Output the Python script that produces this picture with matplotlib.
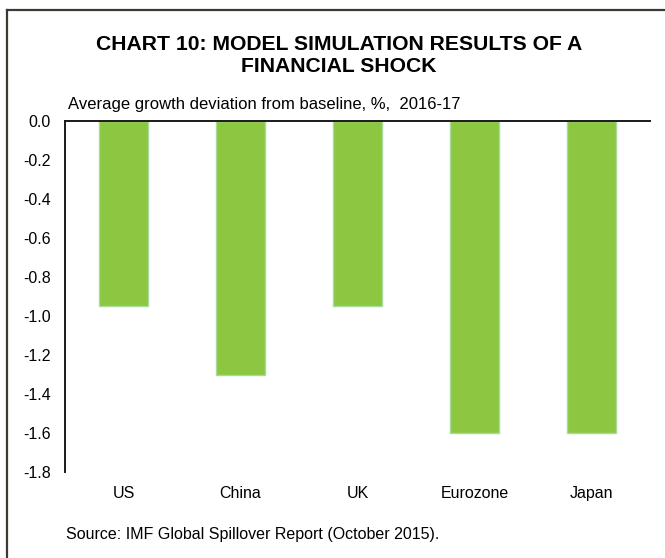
import matplotlib.pyplot as plt

plt.rcParams['font.family'] = ['Liberation Sans', 'DejaVu Sans']

# data
countries = ["US", "China", "UK", "Eurozone", "Japan"]
deviation = [-0.95, -1.30, -0.95, -1.60, -1.60]
y_ticks = [0.0, -0.2, -0.4, -0.6, -0.8, -1.0, -1.2, -1.4, -1.6, -1.8]

fig = plt.figure(figsize=(6.65, 5.58), dpi=100)
W, H = 665, 558

# outer frame (open at right / bottom like the source)
fig.add_artist(plt.Line2D([7 / W, 7 / W], [0, 1 - 10 / H], color="#3b3b33", lw=1.6))
fig.add_artist(plt.Line2D([7 / W, 1], [1 - 10 / H, 1 - 10 / H], color="#3b3b33", lw=1.6))

ax = fig.add_axes([65 / W, 1 - 472 / H, (650 - 65) / W, (472 - 121) / H])

x = range(len(countries))
ax.bar(x, deviation, width=0.42, color="#8DC641", edgecolor="#A6DB9C", linewidth=1)

ax.set_xlim(-0.5, len(countries) - 0.5)
ax.set_ylim(-1.8, 0)
ax.set_yticks(y_ticks)
ax.set_yticklabels([f"{v:.1f}" for v in y_ticks])
ax.set_xticks(list(x))
ax.set_xticklabels(countries)

for s in ["right", "bottom"]:
    ax.spines[s].set_visible(False)
for s in ["left", "top"]:
    ax.spines[s].set_color("#1a1a1a")
    ax.spines[s].set_linewidth(1.4)

ax.tick_params(axis="y", length=0, pad=10, labelsize=11.5)
ax.tick_params(axis="x", length=0, pad=10, labelsize=11.5)

fig.text(339 / W, 1 - 55.5 / H, "CHART 10: MODEL SIMULATION RESULTS OF A\nFINANCIAL SHOCK",
         ha="center", va="center", fontsize=15.2, fontweight="bold", linespacing=1.15)
fig.text(68 / W, 1 - 104 / H, "Average growth deviation from baseline, %,  2016-17",
         ha="left", va="center", fontsize=12)
fig.text(66 / W, 1 - 534 / H, "Source: IMF Global Spillover Report (October 2015).",
         ha="left", va="center", fontsize=11.5)

fig.savefig("out.png", dpi=100)
